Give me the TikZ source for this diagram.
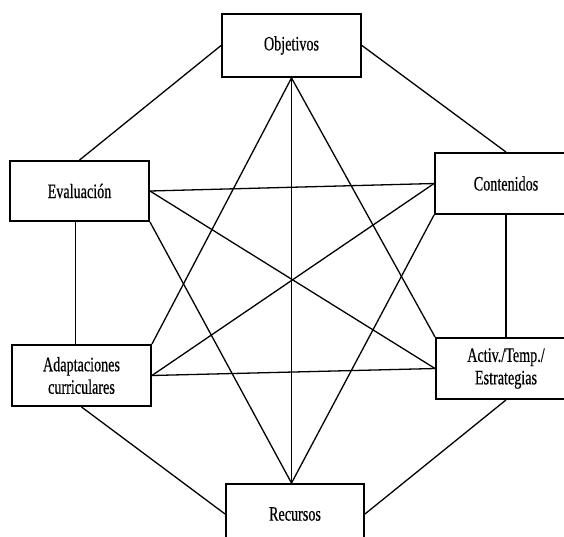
\documentclass[tikz,border=0pt]{standalone}
\usepackage{fontspec}
\setmainfont{Liberation Serif}[FakeStretch=0.69,FakeBold=0.4]
\begin{document}
\begin{tikzpicture}[x=1pt,y=-1pt,
  box/.style={draw,line width=1.9pt,fill=white,align=center,inner sep=0pt,
    font=\fontsize{20.5}{22.5}\selectfont},
  link/.style={line width=1.3pt}]
\useasboundingbox (0,0) rectangle (564,536);
% the six boxes
\node[box,minimum width=139,minimum height=63] (obj) at (291.5,45.5) {Objetivos};
\node[box,minimum width=139,minimum height=60] (eva) at (79.5,191) {Evaluación};
\node[box,minimum width=142,minimum height=61] (con) at (506,183.5) {Contenidos};
\node[box,minimum width=139,minimum height=61] (ada) at (81.5,375.5) {Adaptaciones\\curriculares};
\node[box,minimum width=140,minimum height=61] (act) at (506,368.5) {Activ./Temp./\\Estrategias};
\node[box,minimum width=138,minimum height=60] (rec) at (295,514) {Recursos};
\coordinate (rtop) at (obj.south |- rec.north);
% outer ring
\draw[link] (obj.west) -- (eva.north);
\draw[link] (obj.east) -- (con.north);
\draw[link] ([xshift=-4pt]eva.south) -- ([xshift=-4pt]eva.south |- ada.north);
\draw[link] (con.south) -- (con.south |- act.north);
\draw[link] (ada.south) -- (rec.west);
\draw[link] (act.south) -- (rec.east);
% inner connections
\draw[link] (obj.south) -- (ada.north east);
\draw[link] (obj.south) -- (rtop);
\draw[link] (obj.south) -- (act.north west);
\draw[link] (eva.east) -- (con.west);
\draw[link] (eva.east) -- (act.west);
\draw[link] (eva.south east) -- (rtop);
\draw[link] (con.west) -- (ada.east);
\draw[link] (con.south west) -- (rtop);
\draw[link] (ada.east) -- (act.west);
\end{tikzpicture}
\end{document}
